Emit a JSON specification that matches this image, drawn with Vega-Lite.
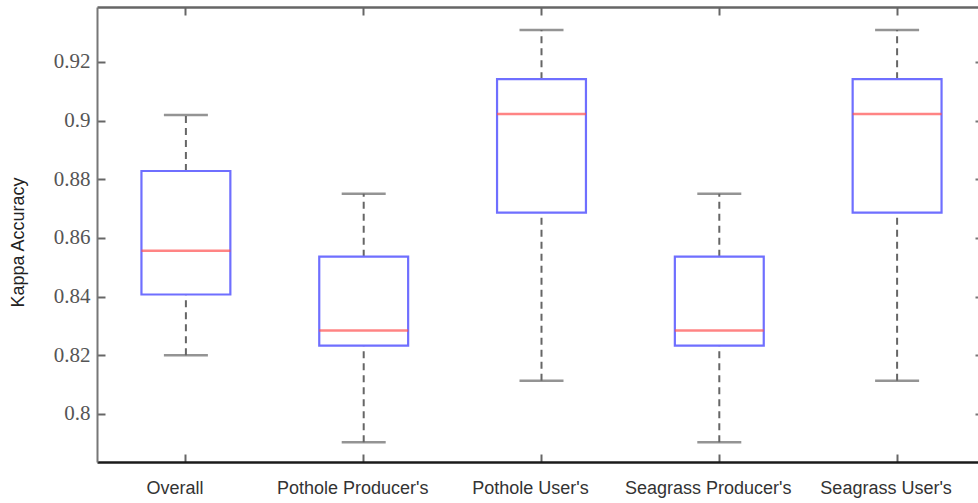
{
  "$schema": "https://vega.github.io/schema/vega-lite/v6.json",
  "autosize": {"type": "none"},
  "padding": {"left": 97, "top": 7, "right": 0, "bottom": 41},
  "width": 881,
  "height": 455,
  "background": "white",
  "view": {"stroke": null},
  "data": {"values": [
    {"cat": "Overall", "lo": 0.8200, "q1": 0.8407, "med": 0.8556, "q3": 0.8828, "hi": 0.9019},
    {"cat": "Pothole Producer's", "lo": 0.7903, "q1": 0.8233, "med": 0.8284, "q3": 0.8536, "hi": 0.8750},
    {"cat": "Pothole User's", "lo": 0.8113, "q1": 0.8686, "med": 0.9022, "q3": 0.9141, "hi": 0.9309},
    {"cat": "Seagrass Producer's", "lo": 0.7903, "q1": 0.8233, "med": 0.8284, "q3": 0.8536, "hi": 0.8750},
    {"cat": "Seagrass User's", "lo": 0.8113, "q1": 0.8686, "med": 0.9022, "q3": 0.9141, "hi": 0.9309}
  ]},
  "resolve": {"axis": {"x": "independent", "y": "independent"}},
  "layer": [
    {
      "mark": {"type": "rule", "stroke": "#666666", "strokeWidth": 2, "strokeDash": [7, 5]},
      "encoding": {
        "x": {"field": "cat", "type": "nominal", "sort": null,
          "scale": {"type": "band", "range": [0, 889], "paddingInner": 0, "paddingOuter": 0},
          "axis": {"orient": "bottom", "title": null, "labelAngle": 0, "labelFont": "Liberation Sans", "labelFontSize": 18, "labelColor": "#333333", "labelOffset": -11,
            "domainColor": "#1a1a1a", "domainWidth": 2.5, "tickColor": "#666666", "tickWidth": 2, "tickSize": -8, "labelPadding": 25, "grid": false}},
        "y": {"field": "lo", "type": "quantitative",
          "scale": {"domain": [0.7836, 0.9387], "nice": false, "zero": false},
          "axis": {"orient": "left", "title": "Kappa Accuracy", "titleFont": "Liberation Sans", "titleFontSize": 18, "titleFontWeight": "normal", "titleColor": "#222222", "titlePadding": 26, "titleY": 235,
            "values": [0.8, 0.82, 0.84, 0.86, 0.88, 0.9, 0.92], "format": "~g",
            "labelFont": "Liberation Serif", "labelFontSize": 21, "labelColor": "#555555",
            "domainColor": "#777777", "domainWidth": 2, "tickColor": "#666666", "tickWidth": 2, "tickSize": -8, "labelPadding": 15, "grid": false}},
        "y2": {"field": "q1"}
      }
    },
    {
      "mark": {"type": "rule", "stroke": "#666666", "strokeWidth": 2, "strokeDash": [7, 5]},
      "encoding": {
        "x": {"field": "cat", "type": "nominal", "sort": null,
          "axis": {"orient": "top", "title": null, "labels": false, "domainColor": "#666666", "domainWidth": 2.5, "tickColor": "#666666", "tickWidth": 2, "tickSize": -8, "grid": false}},
        "y": {"field": "q3", "type": "quantitative",
          "axis": {"orient": "right", "title": null, "labels": false, "domain": false, "values": [0.8, 0.82, 0.84, 0.86, 0.88, 0.9, 0.92], "tickColor": "#777777", "tickWidth": 2, "tickSize": -3, "grid": false}},
        "y2": {"field": "hi"}
      }
    },
    {
      "mark": {"type": "tick", "color": "#666666", "size": 44, "thickness": 2.5},
      "encoding": {
        "x": {"field": "cat", "type": "nominal", "sort": null, "axis": null},
        "y": {"field": "lo", "type": "quantitative", "axis": null}
      }
    },
    {
      "mark": {"type": "tick", "color": "#666666", "size": 44, "thickness": 2.5},
      "encoding": {
        "x": {"field": "cat", "type": "nominal", "sort": null, "axis": null},
        "y": {"field": "hi", "type": "quantitative", "axis": null}
      }
    },
    {
      "mark": {"type": "bar", "width": {"band": 0.5}, "fill": "white", "fillOpacity": 0, "stroke": "#6f6fff", "strokeWidth": 2.2},
      "encoding": {
        "x": {"field": "cat", "type": "nominal", "sort": null, "axis": null},
        "y": {"field": "q1", "type": "quantitative", "axis": null},
        "y2": {"field": "q3"}
      }
    },
    {
      "mark": {"type": "tick", "color": "#ff5050", "size": 89, "thickness": 2.5},
      "encoding": {
        "x": {"field": "cat", "type": "nominal", "sort": null, "axis": null},
        "y": {"field": "med", "type": "quantitative", "axis": null}
      }
    }
  ]
}
